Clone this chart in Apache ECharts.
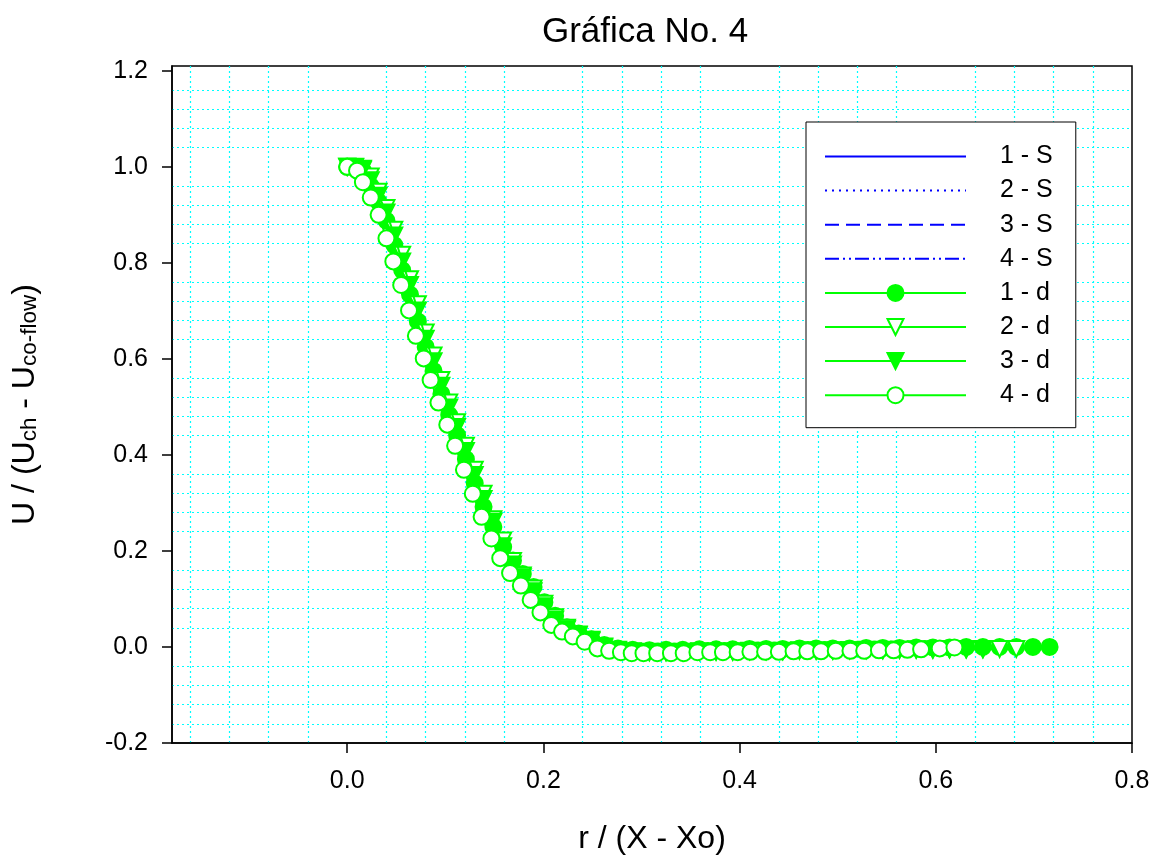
<!DOCTYPE html>
<html>
<head>
<meta charset="utf-8">
<title>Gráfica No. 4</title>
<script src="https://cdn.jsdelivr.net/npm/echarts@6/dist/echarts.min.js"></script>
<style>
  html, body { margin: 0; padding: 0; background: #fff; }
  #chart { width: 1162px; height: 857px; }
</style>
</head>
<body>
<div id="chart"></div>
<script>
// tick labels
const xTickValues = [0.0, 0.2, 0.4, 0.6, 0.8];
const yTickValues = [-0.2, 0.0, 0.2, 0.4, 0.6, 0.8, 1.0, 1.2];

const simNames = ['1 - S', '2 - S', '3 - S', '4 - S'];
const measNames = ['1 - d', '2 - d', '3 - d', '4 - d'];

// "S" curves (blue lines), shared r/(X-Xo) positions
const simX = [0.00, 0.02, 0.04, 0.06, 0.08, 0.10, 0.12, 0.14, 0.16, 0.18, 0.20,
  0.22, 0.24, 0.26, 0.28, 0.30, 0.35, 0.40, 0.45, 0.50, 0.55, 0.60];
const sim1 = [1.000, 0.992, 0.909, 0.785, 0.648, 0.525, 0.419, 0.308, 0.213, 0.145, 0.090,
  0.043, 0.022, 0.005, -0.004, -0.008, -0.009, -0.008, -0.007, -0.006, -0.005, -0.004];
const sim2 = [1.000, 0.990, 0.905, 0.780, 0.645, 0.522, 0.417, 0.306, 0.212, 0.143, 0.088,
  0.045, 0.020, 0.004, -0.005, -0.009, -0.010, -0.009, -0.008, -0.007, -0.006, -0.005];
const sim3 = [1.000, 0.993, 0.912, 0.790, 0.652, 0.530, 0.424, 0.313, 0.217, 0.148, 0.093,
  0.047, 0.024, 0.007, -0.003, -0.007, -0.008, -0.007, -0.006, -0.005, -0.004, -0.003];
const sim4 = [1.000, 0.991, 0.907, 0.783, 0.647, 0.524, 0.420, 0.310, 0.215, 0.146, 0.091,
  0.046, 0.023, 0.006, -0.004, -0.008, -0.009, -0.008, -0.007, -0.006, -0.005, -0.004];

// "d" curves 1-3 share the same positions (they stop at different r)
const measX = [0.000, 0.008, 0.016, 0.024, 0.032, 0.040, 0.048, 0.056, 0.064, 0.072,
  0.080, 0.088, 0.096, 0.104, 0.112, 0.121, 0.130, 0.139, 0.149, 0.159,
  0.169, 0.179, 0.190, 0.201, 0.212, 0.224, 0.236, 0.249, 0.262, 0.276,
  0.291, 0.308, 0.325, 0.342, 0.359, 0.376, 0.393, 0.410, 0.427, 0.444,
  0.461, 0.478, 0.495, 0.512, 0.529, 0.546, 0.563, 0.580, 0.597, 0.614,
  0.631, 0.648, 0.665, 0.682, 0.699, 0.716];
const meas1 = [1.000, 0.998, 0.992, 0.960, 0.927, 0.888, 0.837, 0.785, 0.734, 0.678,
  0.625, 0.575, 0.527, 0.483, 0.441, 0.391, 0.341, 0.292, 0.250, 0.208,
  0.180, 0.152, 0.125, 0.093, 0.065, 0.041, 0.028, 0.016, 0.004, -0.003,
  -0.006, -0.007, -0.006, -0.006, -0.005, -0.005, -0.005, -0.004, -0.004, -0.004,
  -0.003, -0.003, -0.003, -0.003, -0.002, -0.002, -0.002, -0.001, -0.001, -0.001,
  0.000, 0.000, 0.000, 0.000, 0.000, 0.000];
const meas2 = [1.000, 1.000, 0.996, 0.980, 0.948, 0.914, 0.869, 0.817, 0.766, 0.714,
  0.655, 0.607, 0.556, 0.509, 0.468, 0.419, 0.369, 0.319, 0.266, 0.222,
  0.179, 0.149, 0.122, 0.090, 0.062, 0.040, 0.026, 0.015, 0.001, -0.006,
  -0.009, -0.010, -0.010, -0.010, -0.009, -0.009, -0.009, -0.008, -0.008, -0.008,
  -0.007, -0.007, -0.007, -0.007, -0.006, -0.006, -0.006, -0.005, -0.005, -0.005,
  -0.005, -0.004, -0.004, -0.004];
const meas3 = [1.000, 0.999, 0.994, 0.972, 0.940, 0.905, 0.857, 0.803, 0.754, 0.701,
  0.642, 0.595, 0.544, 0.499, 0.458, 0.408, 0.358, 0.308, 0.261, 0.210,
  0.172, 0.145, 0.116, 0.085, 0.057, 0.037, 0.025, 0.013, -0.001, -0.007,
  -0.010, -0.011, -0.011, -0.011, -0.010, -0.010, -0.010, -0.009, -0.009, -0.009,
  -0.008, -0.008, -0.008, -0.007, -0.007, -0.007, -0.006, -0.006, -0.006, -0.005,
  -0.005, -0.005];

// "4 - d" has its own positions
const meas4X = [0.000, 0.010, 0.016, 0.024, 0.032, 0.040, 0.047, 0.055, 0.063, 0.070,
  0.078, 0.085, 0.093, 0.102, 0.110, 0.119, 0.128, 0.137, 0.147, 0.156,
  0.166, 0.177, 0.187, 0.197, 0.208, 0.219, 0.230, 0.242, 0.255, 0.267,
  0.279, 0.290, 0.302, 0.316, 0.330, 0.343, 0.357, 0.370, 0.383, 0.398,
  0.411, 0.426, 0.440, 0.455, 0.469, 0.483, 0.498, 0.513, 0.527, 0.542,
  0.557, 0.571, 0.585, 0.604, 0.619];
const meas4 = [1.000, 0.992, 0.968, 0.936, 0.900, 0.851, 0.803, 0.754, 0.701, 0.648,
  0.601, 0.556, 0.509, 0.463, 0.419, 0.369, 0.319, 0.271, 0.226, 0.185,
  0.154, 0.128, 0.098, 0.072, 0.046, 0.032, 0.022, 0.011, -0.003, -0.008,
  -0.011, -0.013, -0.013, -0.013, -0.013, -0.013, -0.011, -0.011, -0.011, -0.011,
  -0.010, -0.010, -0.010, -0.009, -0.009, -0.009, -0.008, -0.008, -0.008, -0.007,
  -0.007, -0.006, -0.005, -0.003, -0.001];

const BLUE = '#0000ff';
const GREEN = '#00ff00';
const FONT = '"Liberation Sans", Arial, Helvetica, sans-serif';

const pairs = (xs, ys) => ys.map((y, i) => [xs[i], y]);

const simDash = ['solid', [2, 5], [14, 7], [14, 4, 2, 4, 2, 4]];
const simSeries = [sim1, sim2, sim3, sim4].map((ys, i) => ({
  name: simNames[i],
  type: 'line',
  data: pairs(simX, ys),
  showSymbol: false,
  symbol: 'circle',
  lineStyle: { color: BLUE, width: 1.5, type: simDash[i] },
  itemStyle: { color: BLUE },
  z: 2
}));

const measSymbols = [
  { symbol: 'circle', rotate: 0 },
  { symbol: 'emptyTriangle', rotate: 180 },
  { symbol: 'triangle', rotate: 180 },
  { symbol: 'emptyCircle', rotate: 0 }
];
const measData = [pairs(measX, meas1), pairs(measX, meas2), pairs(measX, meas3), pairs(meas4X, meas4)];
const measSeries = measData.map((data, i) => ({
  name: measNames[i],
  type: 'line',
  data: data,
  symbol: measSymbols[i].symbol,
  symbolRotate: measSymbols[i].rotate,
  symbolSize: 16,
  showAllSymbol: true,
  lineStyle: { color: GREEN, width: 2 },
  itemStyle: { color: GREEN, borderColor: GREEN, borderWidth: 2 },
  z: 3 + i
}));

const chart = echarts.init(document.getElementById('chart'), null, { renderer: 'canvas' });

chart.setOption({
  animation: false,
  backgroundColor: '#fff',
  textStyle: { fontFamily: FONT, color: '#000' },
  title: {
    text: 'Gráfica No. 4',
    left: 640,
    textAlign: 'center',
    top: 10,
    textStyle: { fontFamily: FONT, fontSize: 35, fontWeight: 'normal', color: '#000' }
  },
  legend: {
    orient: 'vertical',
    left: 806,
    top: 122,
    padding: [22, 23, 20, 18],
    itemWidth: 141,
    itemHeight: 20,
    itemGap: 9.1,
    backgroundColor: '#fff',
    borderColor: '#000',
    borderWidth: 1,
    borderRadius: 0,
    selectedMode: false,
    textStyle: { fontFamily: FONT, fontSize: 25, color: '#000', padding: [0, 0, 0, 29] },
    data: simNames.map(n => ({ name: n, itemStyle: { opacity: 0 } })).concat(measNames.map(n => ({ name: n })))
  },
  grid: {
    left: 172, right: 30, top: 66, bottom: 114,
    outerBoundsMode: 'none',
    show: true, borderColor: '#000', borderWidth: 1.5
  },
  xAxis: {
    type: 'value',
    min: -0.1786,
    max: 0.8,
    name: 'r / (X - Xo)',
    nameLocation: 'middle',
    nameGap: 80,
    nameTextStyle: { fontFamily: FONT, fontSize: 32, color: '#000' },
    axisLine: { show: true, onZero: false, lineStyle: { color: '#000', width: 1.5 } },
    axisTick: { show: true, inside: false, length: 10, lineStyle: { color: '#000', width: 1.5 }, customValues: xTickValues },
    axisLabel: {
      customValues: xTickValues,
      margin: 26, fontSize: 25, color: '#000', fontFamily: FONT,
      formatter: v => v.toFixed(1)
    },
    splitLine: { show: false },
    minorTick: { show: false, splitNumber: 5 },
    minorSplitLine: { show: true, lineStyle: { color: '#00ffff', width: 1.2, type: [2, 3] } }
  },
  yAxis: {
    type: 'value',
    min: -0.2,
    max: 1.21,
    interval: 0.2,
    name: '{m|U / (U}{s|ch}{m| - U}{s|co-flow}{m|)}',
    nameLocation: 'middle',
    nameRotate: 90,
    nameGap: 131,
    nameTextStyle: {
      fontFamily: FONT, color: '#000',
      rich: {
        m: { fontFamily: FONT, fontSize: 32, color: '#000', verticalAlign: 'bottom' },
        s: { fontFamily: FONT, fontSize: 22.5, color: '#000', verticalAlign: 'bottom' }
      }
    },
    axisLine: { show: true, onZero: false, lineStyle: { color: '#000', width: 1.5 } },
    axisTick: { show: true, inside: false, length: 10, lineStyle: { color: '#000', width: 1.5 }, customValues: yTickValues },
    axisLabel: {
      customValues: yTickValues,
      margin: 24, fontSize: 25, color: '#000', fontFamily: FONT,
      formatter: v => v.toFixed(1)
    },
    splitLine: { show: false },
    minorTick: { show: false, splitNumber: 5 },
    minorSplitLine: { show: true, lineStyle: { color: '#00ffff', width: 1.2, type: [2, 3] } }
  },
  series: simSeries.concat(measSeries)
});
</script>
</body>
</html>
